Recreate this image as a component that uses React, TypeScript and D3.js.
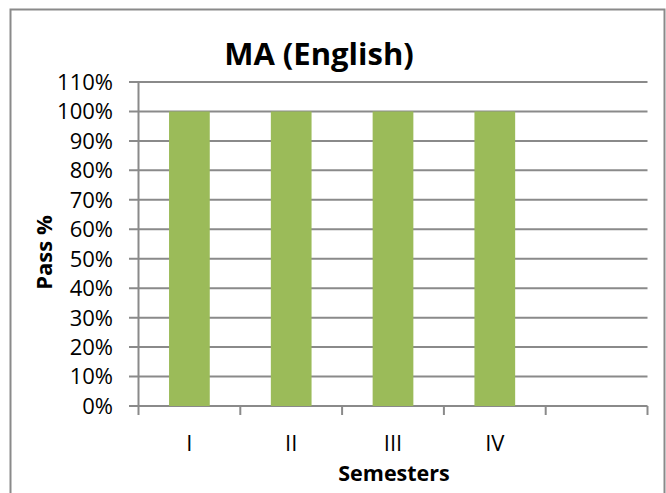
import React from "react";
import * as d3 from "d3";

const categories = ["I", "II", "III", "IV", ""];
const passValues = [1.0, 1.0, 1.0, 1.0, null];
const yTicks = [0, 0.1, 0.2, 0.3, 0.4, 0.5, 0.6, 0.7, 0.8, 0.9, 1.0, 1.1];
const titleText = "MA (English)";
const xTitle = "Semesters";
const yTitle = "Pass %";

const W = 666;
const H = 493;
const margin = { left: 138.5, right: 666 - 647.5, top: 82, bottom: 493 - 406 };
const font = "'Open Sans', sans-serif";
const gray = "#8a8a8a";

export default function App() {
  const x = d3
    .scaleBand<string>()
    .domain(categories.map((c, i) => String(i)))
    .range([margin.left, W - margin.right])
    .paddingInner(0)
    .paddingOuter(0);
  const y = d3.scaleLinear().domain([0, 1.1]).range([H - margin.bottom, margin.top]);
  const bw = x.bandwidth();
  const barW = bw * 0.4;
  const fmt = d3.format(".0%");

  return (
    <svg
      width={W}
      height={H}
      style={{ position: "absolute", left: 0, top: 0, background: "#fff" }}
    >
      <rect x={10.5} y={9.5} width={654} height={500} fill="#fff" stroke={gray} strokeWidth={2} />
      <text x={319} y={65} textAnchor="middle" fontFamily={font} fontWeight="bold" fontSize={31} fill="#000">
        {titleText}
      </text>
      {yTicks.map((t) => (
        <g key={t}>
          <line x1={129} x2={W - margin.right} y1={y(t)} y2={y(t)} stroke={gray} strokeWidth={2} />
          <text x={113} y={y(t)} dy="0.36em" textAnchor="end" fontFamily={font} fontSize={22} fill="#000">
            {fmt(t)}
          </text>
        </g>
      ))}
      <line x1={margin.left} x2={margin.left} y1={margin.top} y2={y(0) + 9} stroke={gray} strokeWidth={2} />
      {categories.map((c, i) => (
        <line
          key={"t" + i}
          x1={(x(String(i)) as number) + bw}
          x2={(x(String(i)) as number) + bw}
          y1={y(0)}
          y2={y(0) + 9}
          stroke={gray}
          strokeWidth={2}
        />
      ))}
      {passValues.map((v, i) =>
        v == null ? null : (
          <rect
            key={"b" + i}
            x={(x(String(i)) as number) + bw / 2 - barW / 2}
            y={y(v)}
            width={barW}
            height={y(0) - y(v)}
            fill="#9bbb59"
          />
        )
      )}
      {categories.map((c, i) => (
        <text
          key={"c" + i}
          x={(x(String(i)) as number) + bw / 2}
          y={443}
          dy="0.36em"
          textAnchor="middle"
          fontFamily={font}
          fontSize={22}
          fill="#000"
        >
          {c}
        </text>
      ))}
      <text x={394} y={481} textAnchor="middle" fontFamily={font} fontWeight="bold" fontSize={21.5} fill="#000">
        {xTitle}
      </text>
      <text
        transform={`translate(52,252.5) rotate(-90)`}
        textAnchor="middle"
        fontFamily={font}
        fontWeight="bold"
        fontSize={22}
        fill="#000"
      >
        {yTitle}
      </text>
    </svg>
  );
}
